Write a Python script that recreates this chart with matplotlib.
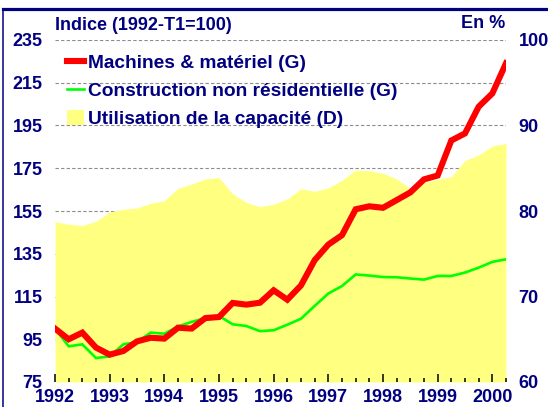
import numpy as np
import matplotlib
matplotlib.use("Agg")
import matplotlib.pyplot as plt
from matplotlib.lines import Line2D
from matplotlib.patches import Patch

plt.rcParams['font.family'] = ['Liberation Sans', 'DejaVu Sans']
plt.rcParams['font.weight'] = 'bold'

# ---- data (quarterly, 1992-T1 .. 2000-T2) ----
years = [1992, 1993, 1994, 1995, 1996, 1997, 1998, 1999, 2000]
machines = [100.0, 95.0, 98.1, 91.1, 87.8, 89.5, 94.0, 95.7, 95.3, 100.4,
            100.0, 104.9, 105.4, 112.0, 111.2, 112.1, 117.9, 113.5, 120.2, 132.0,
            139.3, 143.7, 155.8, 157.2, 156.5, 160.1, 163.7, 169.8, 171.6, 188.0,
            191.3, 203.8, 210.0, 224.1]
construction = [100.0, 91.7, 92.6, 86.2, 87.0, 92.6, 93.7, 98.1, 97.6, 101.0,
                103.1, 104.9, 105.9, 102.0, 101.2, 98.8, 99.2, 101.8, 104.6, 110.6,
                116.4, 119.9, 125.3, 124.8, 124.1, 124.0, 123.4, 122.9, 124.6, 124.6,
                126.2, 128.5, 131.2, 132.4]
capacity = [78.75, 78.45, 78.3, 78.8, 79.9, 80.2, 80.35, 80.9, 81.2, 82.65,
            83.15, 83.75, 83.9, 82.0, 81.0, 80.5, 80.8, 81.4, 82.6, 82.3,
            82.7, 83.6, 84.8, 84.7, 84.4, 83.75, 82.6, 83.35, 83.7, 84.0,
            85.9, 86.55, 87.6, 87.9]
left_ticks = [75, 95, 115, 135, 155, 175, 195, 215, 235]
right_ticks = [60, 70, 80, 90, 100]
labels = ["Machines & matériel (G)", "Construction non résidentielle (G)",
          "Utilisation de la capacité (D)"]

navy = "#000080"
red = "#FF0000"
green = "#00FF00"
yellow = "#FFFF80"

W, H = 548, 407
fig = plt.figure(figsize=(W / 100, H / 100), dpi=100)
L, R, T, B = 55, 506, 40, 382
pos = [L / W, 1 - B / H, (R - L) / W, (B - T) / H]

x = np.arange(len(machines))

# bottom axes: grid + left labels
ax = fig.add_axes(pos)
ax.set_xlim(0, len(machines) - 1)
ax.set_ylim(75, 235)
ax.set_yticks(left_ticks)
ax.grid(axis='y', linestyle=(0, (3, 2)), color='#8c8c8c', linewidth=0.8)
ax.tick_params(axis='y', length=0, pad=9, labelcolor=navy, labelsize=13)
ax.xaxis.set_visible(False)
ax.patch.set_visible(False)

# middle axes: capacity fill (right scale)
axr = ax.twinx()
axr.set_ylim(60, 100)
axr.set_yticks(right_ticks)
axr.fill_between(x, 60, capacity, color=yellow, linewidth=0)
axr.tick_params(axis='y', length=0, pad=9, labelcolor=navy, labelsize=13)

# top axes: lines + x ticks
axl = ax.twinx()
axl.set_ylim(75, 235)
axl.yaxis.set_visible(False)
axl.xaxis.set_visible(True)
axl.plot(x, construction, color=green, linewidth=1.9, solid_joinstyle='miter')
axl.plot(x, machines, color=red, linewidth=4.4, solid_joinstyle='miter')
axl.set_xticks([(y - 1992) * 4 for y in years])
axl.set_xticklabels([str(y) for y in years])
axl.set_xticks(x, minor=True)
axl.tick_params(axis='x', which='major', direction='in', length=6, width=1.1,
                color='black', pad=5, labelcolor=navy, labelsize=13)
axl.tick_params(axis='x', which='minor', direction='in', length=3, width=1.1,
                color='black')

for a in (ax, axr, axl):
    for s in a.spines.values():
        s.set_visible(False)

handles = [Line2D([], [], color=red, linewidth=4.4),
           Line2D([], [], color=green, linewidth=1.9),
           Patch(facecolor=yellow, edgecolor='none')]
leg = axl.legend(handles, labels, loc='upper left',
                 bbox_to_anchor=(67 / W, 1 - 54 / H), bbox_transform=fig.transFigure,
                 frameon=False, fontsize=13.8, handlelength=0.9, handleheight=0.85,
                 handletextpad=0.2, labelspacing=0.5, borderpad=0, borderaxespad=0)
for t in leg.get_texts():
    t.set_color(navy)

fig.text(55 / W, 1 - 25 / H, "Indice (1992-T1=100)", ha='left', va='center',
         color=navy, fontsize=13)
fig.text(505 / W, 1 - 23 / H, "En %", ha='right', va='center',
         color=navy, fontsize=13)

fig.add_artist(Line2D([3 / W, 1], [1 - 8.5 / H] * 2, color=navy, linewidth=2.3))
fig.add_artist(Line2D([3 / W] * 2, [0, 1 - 8.5 / H], color=navy, linewidth=1.1))

fig.savefig("out.png", dpi=100)
